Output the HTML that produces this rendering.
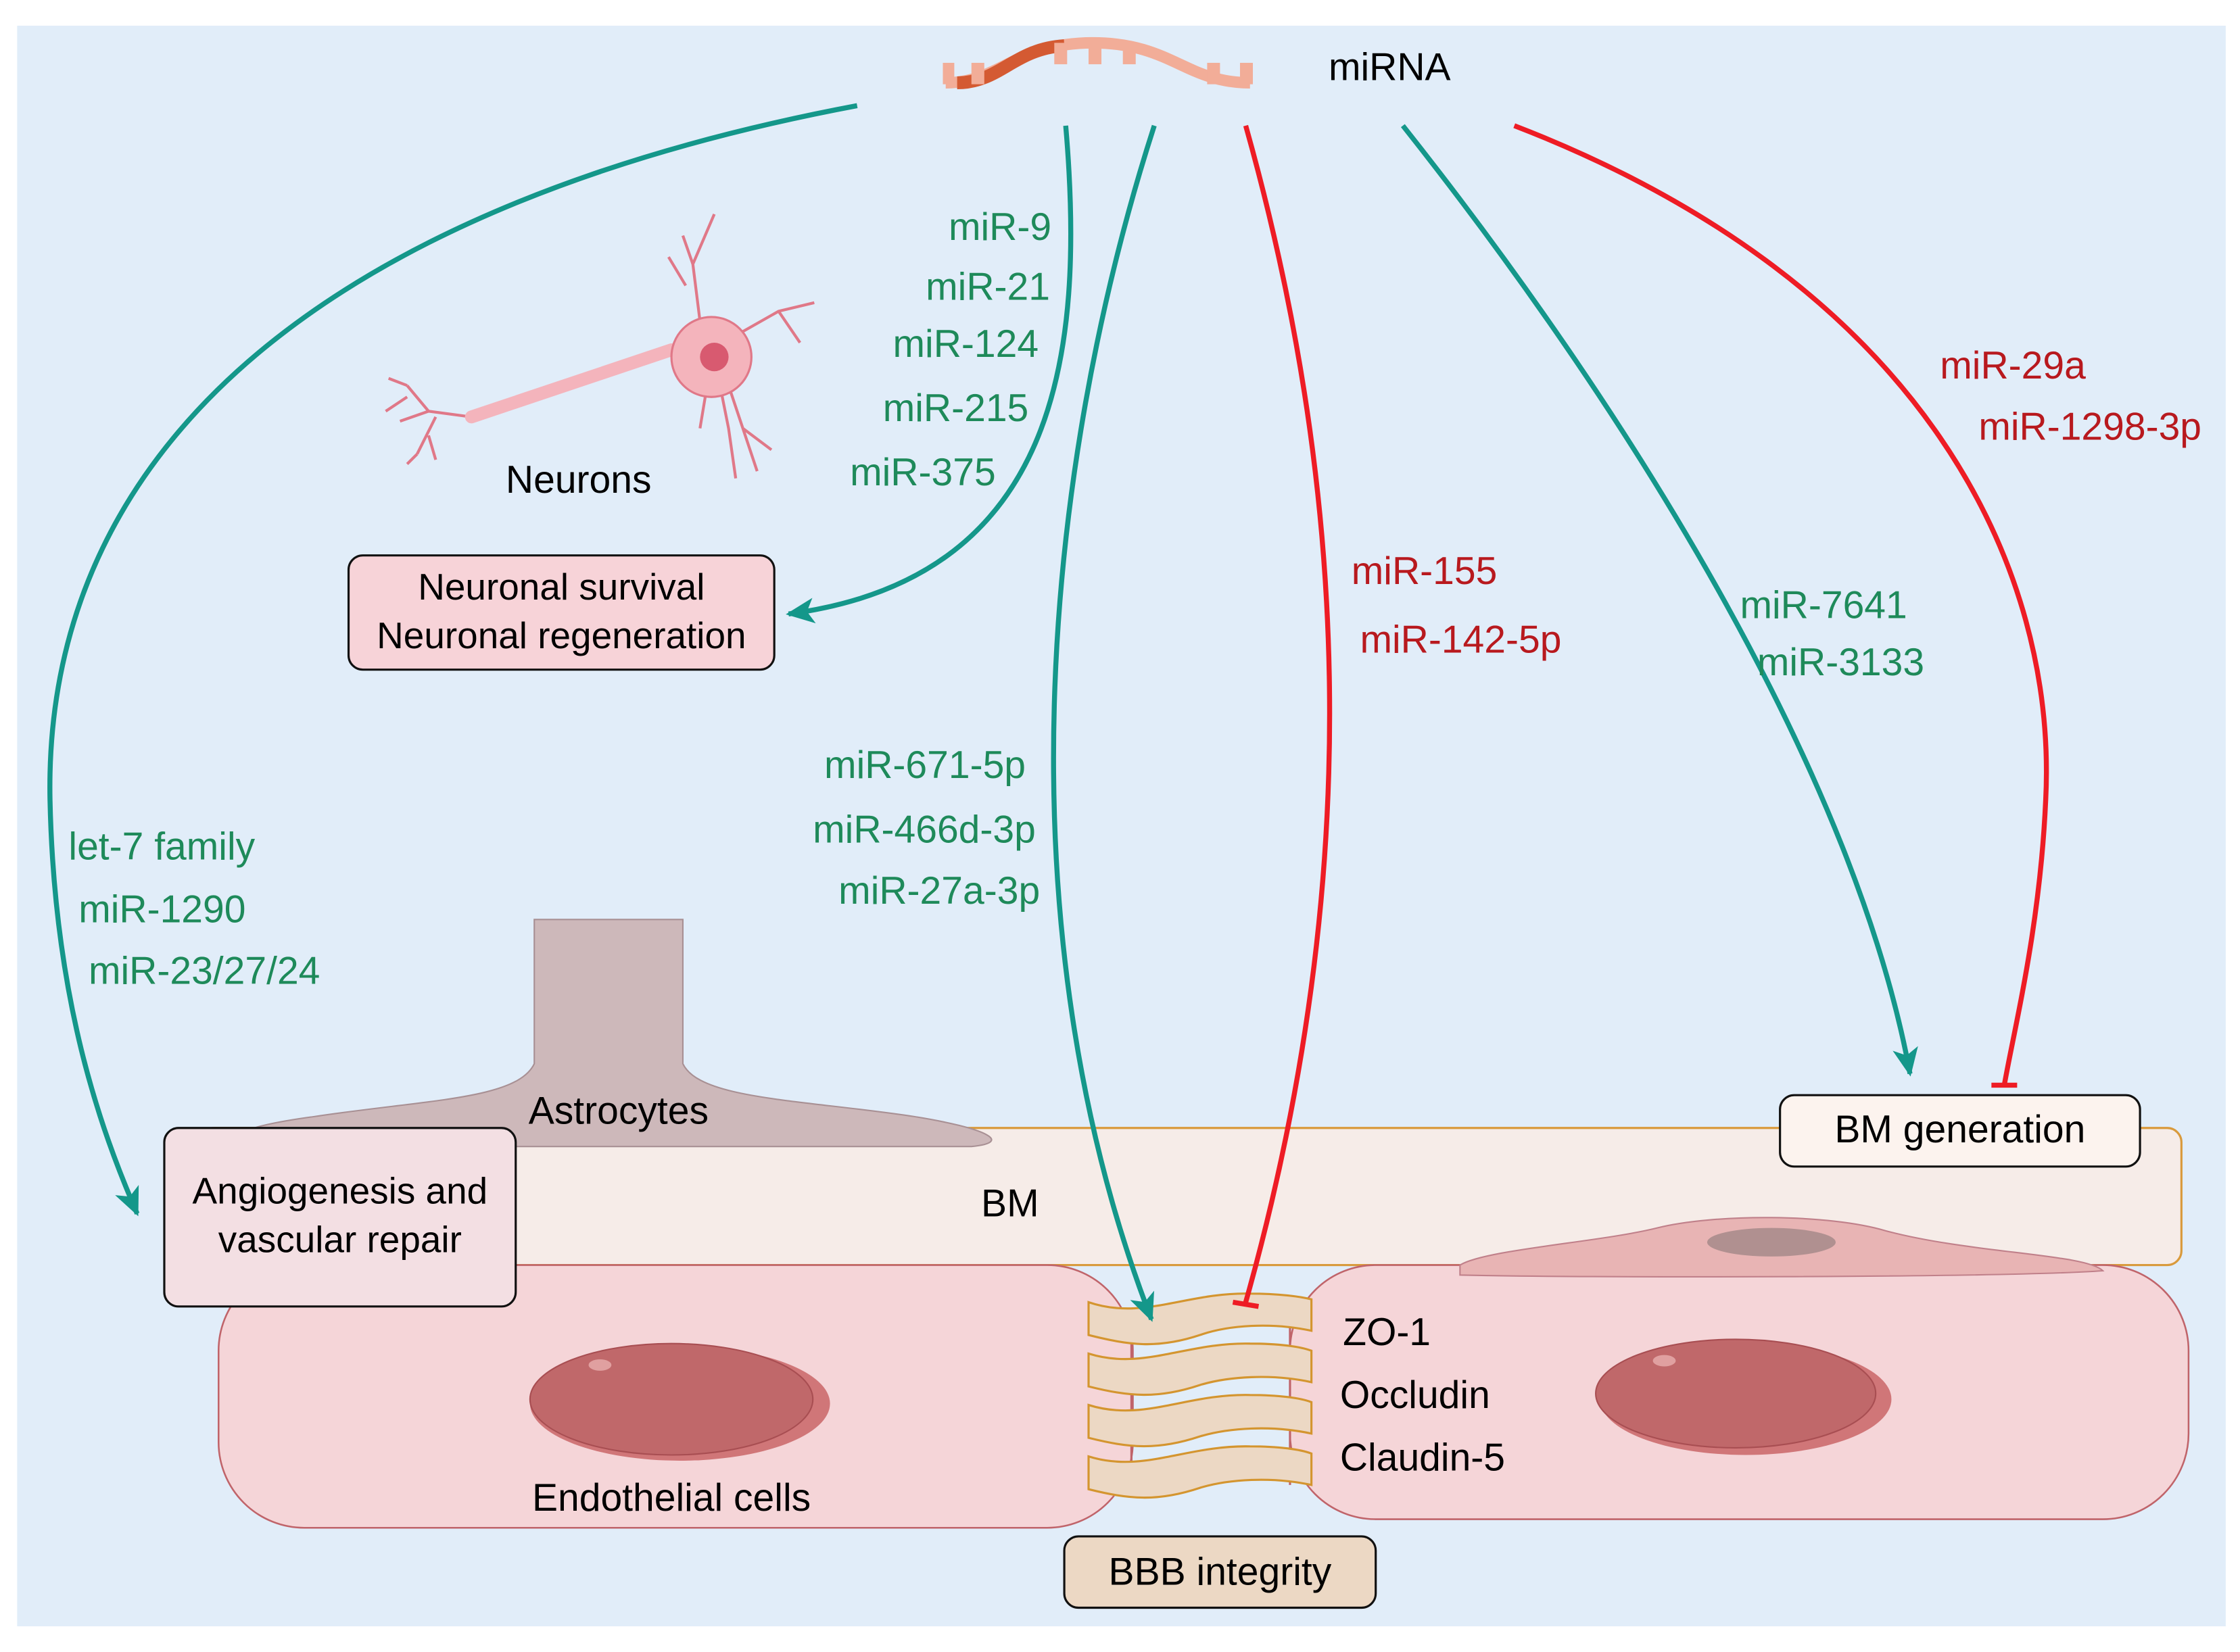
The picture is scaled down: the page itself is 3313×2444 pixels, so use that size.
<!DOCTYPE html>
<html><head><meta charset="utf-8"><style>
html,body{margin:0;padding:0;background:#fff;}
svg{display:block;}
text{font-family:"Liberation Sans",Arial,sans-serif;font-size:27px;}
</style></head><body>
<svg width="3313" height="2444" viewBox="0 0 1568 1157" preserveAspectRatio="none" xmlns="http://www.w3.org/2000/svg">
<defs>
<marker id="ta" viewBox="-16 -12 26 24" refX="4" refY="0" markerWidth="26" markerHeight="24" orient="auto" markerUnits="userSpaceOnUse">
<path d="M-14,-9 L6,0 L-14,9 L-9,0 Z" fill="#14978a"/>
</marker>
</defs>
<rect x="12" y="18" width="1546" height="1121" fill="#e1edf9"/>

<!-- miRNA icon -->
<g>
<path d="M662,58 C700,58 710,30 765,30 C820,30 830,58 875,58" fill="none" stroke="#f2ad98" stroke-width="8"/>
<path d="M670,58 C700,58 710,34 745,32" fill="none" stroke="#d45a32" stroke-width="9"/>
<g fill="#f2ad98">
<rect x="660" y="44" width="8" height="15"/><rect x="680" y="44" width="9" height="15"/>
<rect x="738" y="30" width="9" height="15"/><rect x="762" y="30" width="9" height="15"/>
<rect x="786" y="30" width="9" height="15"/><rect x="845" y="44" width="9" height="15"/>
<rect x="868" y="44" width="9" height="15"/>
</g>
<text x="930" y="56" fill="#000">miRNA</text>
</g>

<!-- Neuron -->
<g stroke="#e07888" stroke-width="2" fill="none">
<path d="M330,292 L300,288 L285,270 M300,288 L280,295 M305,292 L292,318 M292,318 L285,325 M300,305 L305,322 M285,270 L272,265 M285,278 L270,288"/>
<path d="M490,225 L485,185 L478,165 M485,185 L500,150 M480,200 L468,180 M515,235 L545,218 L570,212 M545,218 L560,240 M510,270 L520,300 L530,330 M520,300 L540,315 M505,275 L510,300 L515,335 M495,270 L490,300"/>
</g>
<path d="M330,292 L470,245" stroke="#f4b4bc" stroke-width="9" stroke-linecap="round"/>
<circle cx="498" cy="250" r="28" fill="#f4b4bc" stroke="#e07888" stroke-width="1.5"/>
<circle cx="500" cy="250" r="10" fill="#d85a70"/>
<text x="405" y="345" text-anchor="middle" fill="#000">Neurons</text>

<!-- BM band -->
<rect x="140" y="790" width="1387" height="96" rx="10" fill="#f6ece8" stroke="#d99a3c" stroke-width="1.5"/>

<!-- Astrocyte -->
<path d="M374,644 L478,644 L478,745 C490,770 560,770 640,782 C690,790 710,800 680,803 L190,803 C150,800 160,790 220,782 C300,770 362,770 374,745 Z" fill="#cdb8ba" stroke="#a89094" stroke-width="1"/>
<text x="433" y="787" text-anchor="middle" fill="#000">Astrocytes</text>
<text x="707" y="852" text-anchor="middle" fill="#000">BM</text>

<!-- Endothelial cells -->
<rect x="153" y="886" width="640" height="184" rx="60" fill="#f5d5d8" stroke="#c0646a" stroke-width="1.2"/>
<ellipse cx="476" cy="983" rx="105" ry="40" fill="#d07678"/>
<ellipse cx="470" cy="980" rx="99" ry="39" fill="#c0686a" stroke="#a84e52" stroke-width="1"/>
<ellipse cx="420" cy="956" rx="8" ry="4" fill="#e0a0a0"/>
<text x="470" y="1058" text-anchor="middle" fill="#000">Endothelial cells</text>

<rect x="903" y="886" width="629" height="178" rx="60" fill="#f5d5d8" stroke="#c0646a" stroke-width="1.2"/>
<path d="M1022,886 C1040,875 1120,870 1160,860 C1200,850 1280,850 1320,862 C1380,878 1460,878 1472,890 C1400,895 1100,895 1022,893 Z" fill="#e8b4b4" stroke="#c0808a" stroke-width="1"/>
<ellipse cx="1240" cy="870" rx="45" ry="10" fill="#b09090"/>
<ellipse cx="1222" cy="980" rx="102" ry="39" fill="#d07678"/>
<ellipse cx="1215" cy="976" rx="98" ry="38" fill="#c0686a" stroke="#a84e52" stroke-width="1"/>
<ellipse cx="1165" cy="953" rx="8" ry="4" fill="#e0a0a0"/>

<!-- Tight junctions -->
<g stroke="#d4952f" stroke-width="1.5" fill="#ecd8c4">
<line x1="792" y1="920" x2="792" y2="1040" stroke="#c0646a"/>
<line x1="903" y1="920" x2="903" y2="1040" stroke="#c0646a"/>
<path d="M762,912 C800,925 830,905 875,906 C895,906 910,908 918,910 L918,932 C890,926 860,928 840,935 C810,945 790,942 762,935 Z"/>
<path d="M762,948 C800,960 830,940 875,941 C895,941 910,943 918,946 L918,968 C890,962 860,964 840,970 C810,980 790,978 762,971 Z"/>
<path d="M762,984 C800,996 830,976 875,977 C895,977 910,979 918,982 L918,1004 C890,998 860,1000 840,1006 C810,1016 790,1014 762,1007 Z"/>
<path d="M762,1020 C800,1032 830,1012 875,1013 C895,1013 910,1015 918,1018 L918,1040 C890,1034 860,1036 840,1042 C810,1052 790,1050 762,1043 Z"/>
</g>
<text x="940" y="942" fill="#000">ZO-1</text>
<text x="938" y="986" fill="#000">Occludin</text>
<text x="938" y="1030" fill="#000">Claudin-5</text>

<!-- Boxes -->
<rect x="244" y="389" width="298" height="80" rx="10" fill="#f7d3d8" stroke="#111" stroke-width="1.5"/>
<text x="393" y="420" text-anchor="middle" fill="#000" style="font-size:26px">Neuronal survival</text>
<text x="393" y="454" text-anchor="middle" fill="#000" style="font-size:26px">Neuronal regeneration</text>

<rect x="115" y="790" width="246" height="125" rx="10" fill="#f3dfe3" stroke="#111" stroke-width="1.5"/>
<text x="238" y="843" text-anchor="middle" fill="#000" style="font-size:26px">Angiogenesis and</text>
<text x="238" y="877" text-anchor="middle" fill="#000" style="font-size:26px">vascular repair</text>

<rect x="745" y="1076" width="218" height="50" rx="10" fill="#ecd8c4" stroke="#111" stroke-width="1.5"/>
<text x="854" y="1110" text-anchor="middle" fill="#000">BBB integrity</text>

<rect x="1246" y="767" width="252" height="50" rx="10" fill="#fcf3ee" stroke="#111" stroke-width="1.5"/>
<text x="1372" y="800" text-anchor="middle" fill="#000">BM generation</text>

<!-- Connectors -->
<g fill="none" stroke-width="3.5">
<path d="M600,74 C250,140 30,300 35,560 C38,700 70,790 96,850" stroke="#14978a" marker-end="url(#ta)"/>
<path d="M746,88 C760,250 740,405 552,430" stroke="#14978a" marker-end="url(#ta)"/>
<path d="M808,88 C730,330 700,650 806,924" stroke="#14978a" marker-end="url(#ta)"/>
<path d="M982,88 C1150,300 1300,550 1337,752" stroke="#14978a" marker-end="url(#ta)"/>
<path d="M872,88 C940,330 960,600 872,912" stroke="#ee1c25"/>
<path d="M1060,88 C1350,200 1440,400 1432,560 C1428,650 1410,720 1403,760" stroke="#ee1c25"/>
<line x1="863" y1="912" x2="881" y2="915" stroke="#ee1c25"/>
<line x1="1394" y1="760" x2="1412" y2="760" stroke="#ee1c25"/>
</g>

<!-- Labels -->
<g fill="#1e8a5a">
<text x="736" y="168" text-anchor="end">miR-9</text>
<text x="735" y="210" text-anchor="end">miR-21</text>
<text x="727" y="250" text-anchor="end">miR-124</text>
<text x="720" y="295" text-anchor="end">miR-215</text>
<text x="697" y="340" text-anchor="end">miR-375</text>
<text x="718" y="545" text-anchor="end">miR-671-5p</text>
<text x="725" y="590" text-anchor="end">miR-466d-3p</text>
<text x="728" y="633" text-anchor="end">miR-27a-3p</text>
<text x="48" y="602">let-7 family</text>
<text x="55" y="646">miR-1290</text>
<text x="62" y="689">miR-23/27/24</text>
<text x="1218" y="433">miR-7641</text>
<text x="1230" y="473">miR-3133</text>
</g>
<g fill="#b8191e">
<text x="946" y="409">miR-155</text>
<text x="952" y="457">miR-142-5p</text>
<text x="1358" y="265">miR-29a</text>
<text x="1385" y="308">miR-1298-3p</text>
</g>
</svg>
</body></html>
